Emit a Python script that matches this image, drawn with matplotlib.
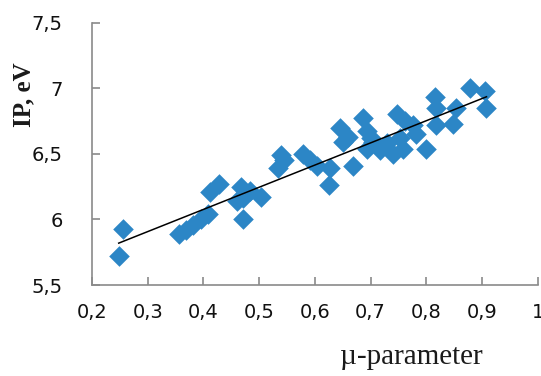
import matplotlib
matplotlib.use("Agg")
import matplotlib.pyplot as plt
import numpy as np

# data
mu = [0.248, 0.255, 0.357, 0.369, 0.382, 0.395, 0.408, 0.412, 0.428, 0.468,
      0.460, 0.471, 0.471, 0.483, 0.504, 0.534, 0.540, 0.545, 0.579, 0.591,
      0.603, 0.627, 0.626, 0.645, 0.651, 0.660, 0.669, 0.687, 0.693, 0.705,
      0.693, 0.717, 0.741, 0.747, 0.761, 0.752, 0.758, 0.776, 0.782, 0.800,
      0.815, 0.817, 0.818, 0.854, 0.848, 0.878, 0.905, 0.908, 0.730, 0.700]
ip = [5.72, 5.93, 5.89, 5.92, 5.96, 6.00, 6.04, 6.21, 6.27, 6.25,
      6.14, 6.16, 6.00, 6.22, 6.17, 6.39, 6.49, 6.45, 6.50, 6.45,
      6.41, 6.39, 6.26, 6.70, 6.59, 6.63, 6.41, 6.77, 6.67, 6.59,
      6.54, 6.53, 6.50, 6.80, 6.75, 6.62, 6.54, 6.72, 6.65, 6.54,
      6.93, 6.85, 6.72, 6.85, 6.73, 7.00, 6.98, 6.85, 6.58, 6.62]
trend_slope = 1.69
trend_intercept = 5.40

x_ticks = [0.2, 0.3, 0.4, 0.5, 0.6, 0.7, 0.8, 0.9, 1.0]
x_ticklabels = ["0,2", "0,3", "0,4", "0,5", "0,6", "0,7", "0,8", "0,9", "1"]
y_ticks = [5.5, 6.0, 6.5, 7.0, 7.5]
y_ticklabels = ["5,5", "6", "6,5", "7", "7,5"]

fig = plt.figure(figsize=(5.41, 3.76), dpi=100)
ax = fig.add_axes([0.170, 0.242, 0.824, 0.698])

ax.scatter(mu, ip, marker="D", s=110, color="#2C86C6", linewidths=0, zorder=2)
tx = np.array([min(mu), max(mu)])
ax.plot(tx, trend_slope * tx + trend_intercept, color="black", lw=1.1, zorder=3)

ax.set_xlim(0.2, 1.0)
ax.set_ylim(5.5, 7.5)
ax.set_xticks(x_ticks)
ax.set_xticklabels(x_ticklabels)
ax.set_yticks(y_ticks)
ax.set_yticklabels(y_ticklabels)

for s in ["top", "right"]:
    ax.spines[s].set_visible(False)
for s in ["left", "bottom"]:
    ax.spines[s].set_color("#8a8a8a")
    ax.spines[s].set_linewidth(1.2)

ax.tick_params(axis="both", direction="in", length=6, width=1.2, color="#8a8a8a",
               labelsize=14, labelcolor="#111111")
ax.tick_params(axis="x", pad=13)
ax.tick_params(axis="y", pad=21)
for lab in ax.get_xticklabels() + ax.get_yticklabels():
    lab.set_fontfamily("DejaVu Sans")

ax.set_xlabel("\u00b5-parameter", fontsize=21, fontfamily="Liberation Serif",
              color="#1a1a1a")
ax.xaxis.set_label_coords(0.716, -0.225)
ax.set_ylabel("IP, eV", fontsize=18, fontfamily="Liberation Serif",
              fontweight="bold", color="#1a1a1a")
ax.yaxis.set_label_coords(-0.128, 0.725)

fig.savefig("out.png", dpi=100)
